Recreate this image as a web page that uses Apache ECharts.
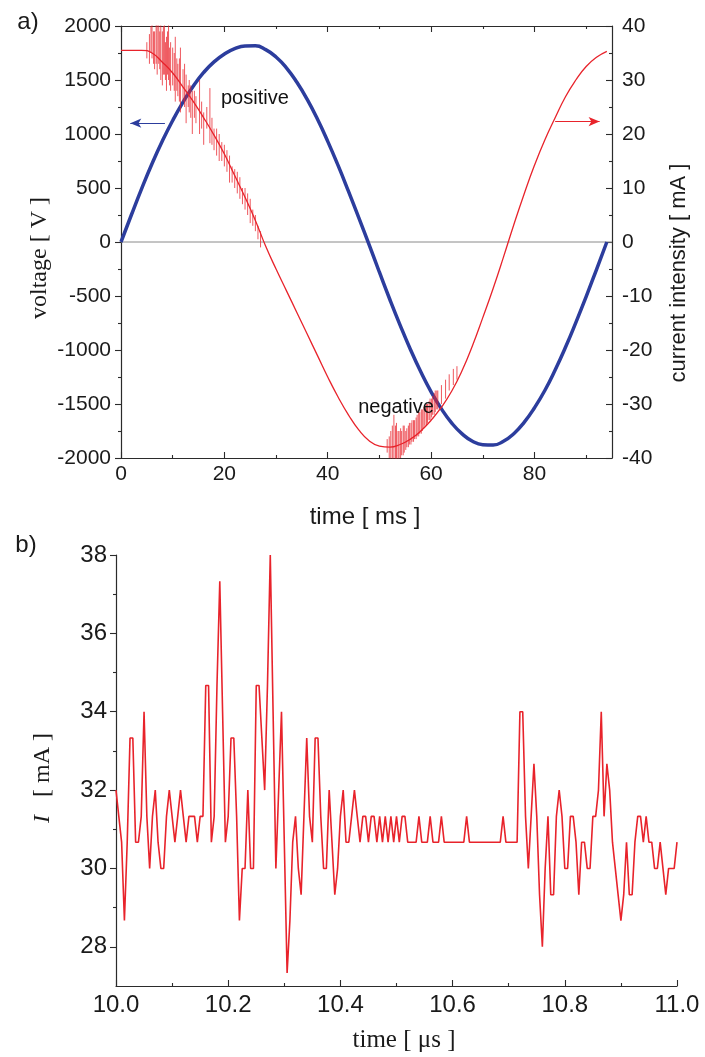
<!DOCTYPE html>
<html>
<head>
<meta charset="utf-8">
<script src="https://cdn.jsdelivr.net/npm/echarts@6/dist/echarts.min.js"></script>
<style>
  html, body { margin: 0; padding: 0; background: #fff; }
  #chart { width: 705px; height: 1057px; }
</style>
</head>
<body>
<div id="chart"></div>
<script>
// ---- panel a) : one period of the discharge ----
const tMs = [0, 2, 4, 6, 8, 10, 12, 14, 16, 18, 20, 22, 24, 26, 28, 30, 32, 34, 36, 38, 40, 42, 44, 46,
  48, 50, 52, 54, 56, 58, 60, 62, 64, 66, 68, 70, 72, 74, 76, 78, 80, 82, 84, 86, 88, 90, 92, 94]
const voltageV = [0, 250, 495, 725, 935, 1125, 1295, 1445, 1570, 1668, 1740, 1790, 1815, 1816, 1781, 1713,
  1613, 1481, 1322, 1138, 932, 709, 471, 225, -25, -280, -530, -769, -995, -1202, -1387, -1545,
  -1677, -1777, -1845, -1877, -1880, -1845, -1775, -1670, -1535, -1375, -1185, -975, -746, -506, -255, 0]
const currentMA = [35.5, 35.5, 35.5, 35.0, 33.3, 31.3, 28.7, 26.0, 23.0, 19.8, 16.3, 12.3, 8.3, 4.0, -0.8, -5.0,
  -9.0, -13.0, -17.0, -21.0, -25.0, -28.7, -32.0, -34.8, -36.8, -37.8, -38.0, -37.5, -36.5, -35.0, -33.0, -30.6,
  -27.6, -23.8, -19.2, -14.0, -8.6, -2.8, 3.2, 8.9, 14.2, 18.9, 23.0, 26.9, 30.0, 32.5, 34.2, 35.3]
// current spikes [t, top, bottom] in the noisy parts
const spikesPositive = [[5.0, 37, 34], [5.5, 38.5, 33], [5.8, 40, 35], [6.0, 41, 34], [6.3, 39, 33], [6.5, 39, 32],
  [6.8, 41, 33], [7.0, 41, 31], [7.3, 41, 33], [7.5, 39, 32], [7.7, 41, 30], [8.0, 39, 29], [8.2, 40, 31],
  [8.4, 41, 31], [8.6, 37, 30], [8.8, 38, 28], [9.0, 39, 31], [9.2, 41, 30], [9.4, 36, 29], [9.6, 37, 28],
  [10.0, 36, 29], [10.3, 35, 28], [10.5, 38, 26], [10.8, 34, 28], [11.0, 33, 27], [11.3, 34, 26], [11.5, 36, 24],
  [12.0, 32, 26], [12.3, 33, 25], [12.6, 31, 22], [13.0, 29, 25], [13.2, 30, 24], [13.5, 29, 23], [13.8, 28, 20],
  [14.2, 28, 23], [14.5, 27, 22], [15.2, 30, 20], [15.6, 26, 21], [16.0, 24, 18], [16.6, 25, 21],
  [17.2, 28.5, 18.3], [17.6, 23, 18], [18.0, 21, 17], [18.5, 21, 16], [19.0, 20, 15], [19.5, 18.5, 15],
  [20.0, 18, 14], [20.5, 17, 13], [21.0, 16, 11], [21.5, 14, 11], [22.0, 13.5, 10], [22.5, 13, 9],
  [23.0, 12, 8], [23.5, 10, 7], [24.0, 10, 6], [24.5, 9, 5], [25.0, 8, 3.5], [25.5, 6, 3], [26.0, 5, 2],
  [26.5, 3, 0.5], [27.0, 2, -1]]
const spikesNegative = [[51.5, -36.5, -39], [51.9, -36, -40], [52.2, -35, -41], [52.5, -34, -41], [52.8, -32, -41],
  [53.1, -34, -41], [53.3, -33.5, -41], [53.6, -35, -41], [53.8, -35, -41], [54.1, -34.5, -40],
  [54.3, -35, -39.5], [54.6, -34, -39.5], [54.8, -34, -39], [55.1, -35, -38.5], [55.3, -34.5, -38],
  [55.6, -34, -38], [55.8, -33.5, -37.5], [56.1, -33.5, -37.5], [56.3, -33, -37], [56.6, -33, -37],
  [56.8, -33, -36.5], [57.1, -32.5, -36.5], [57.3, -32, -36], [57.6, -31.5, -36], [57.8, -31.5, -35.5],
  [58.1, -31, -35.5], [58.3, -31, -35], [58.6, -30.5, -34.5], [58.8, -30.5, -34], [59.1, -30, -34],
  [59.3, -30, -33.5], [59.6, -29.5, -33], [59.8, -29, -33], [60.1, -29, -32.5], [60.3, -28.5, -32],
  [60.6, -28, -32], [60.8, -27.5, -31.5], [61.1, -27.5, -31], [61.3, -27.5, -31], [62.0, -26.5, -30],
  [62.8, -25.5, -29], [63.5, -24.5, -27.5], [64.3, -23.5, -26.5], [65.0, -23, -25.5]]
const notes = [['positive', 25.9, 1333], ['negative', 53.2, -1528]]
const arrowVoltage = [[8.5, 1100], [1.8, 1100]]
const arrowCurrent = [[84.0, 22.3], [92.6, 22.3]]

// ---- panel b) : zoom on 1 µs, sampled every 5 ns ----
const tStartUs = 10.0
const dtUs = 0.005
const currentB = [
  32, 31.33, 30.67, 28.67, 30.67, 33.33, 33.33, 30.67, 30.67, 31.33,
  34, 31.33, 30, 31.33, 32, 30.67, 30, 30, 31.33, 32,
  31.33, 30.67, 31.33, 32, 31.33, 30.67, 31.33, 31.33, 31.33, 30.67,
  31.33, 31.33, 34.67, 34.67, 30.67, 31.33, 34.67, 37.33, 34, 30.67,
  31.33, 33.33, 33.33, 31.33, 28.67, 30, 30, 32, 30, 30,
  34.67, 34.67, 33.33, 32, 34.67, 38, 34, 30, 32, 34,
  30.67, 27.33, 28.67, 30.67, 31.33, 30, 29.33, 31.33, 33.33, 31.33,
  30.67, 33.33, 33.33, 31.33, 30, 30, 32, 30.67, 29.33, 30,
  31.33, 32, 30.67, 30.67, 31.33, 32, 31.33, 30.67, 31.33, 31.33,
  30.67, 31.33, 31.33, 30.67, 31.33, 30.67, 31.33, 30.67, 31.33, 30.67,
  31.33, 30.67, 31.33, 31.33, 30.67, 30.67, 30.67, 30.67, 31.33, 30.67,
  30.67, 30.67, 31.33, 30.67, 30.67, 30.67, 31.33, 30.67, 30.67, 30.67,
  30.67, 30.67, 30.67, 30.67, 30.67, 31.33, 30.67, 30.67, 30.67, 30.67,
  30.67, 30.67, 30.67, 30.67, 30.67, 30.67, 30.67, 30.67, 31.33, 30.67,
  30.67, 30.67, 30.67, 30.67, 34, 34, 31.33, 30, 31.33, 32.67,
  31.33, 29.33, 28, 30, 31.33, 29.33, 29.33, 31.33, 32, 31.33,
  30, 30, 31.33, 31.33, 30.67, 29.33, 30.67, 30.67, 30, 30,
  31.33, 31.33, 32, 34, 31.33, 32.67, 32, 30.67, 30, 29.33,
  28.67, 29.33, 30.67, 29.33, 29.33, 30.67, 31.33, 31.33, 30.67, 31.33,
  30.67, 30.67, 30, 30, 30.67, 30, 29.33, 30, 30, 30,
  30.67]

const msMajor = [0, 20, 40, 60, 80]
const msMinor = [10, 30, 50, 70, 90]
const mAMajor = [28, 30, 32, 34, 36, 38]
const mAMinor = [29, 31, 33, 35, 37]

const SANS = 'Liberation Sans'
const SERIF = 'Liberation Serif'
const BLUE = '#2c3d9d'
const RED = '#e8232b'
const GREY = '#8a8a8a'
const AX = '#2b2b2b'
const LBL = '#1a1a1a'

const chart = echarts.init(document.getElementById('chart'))

const spikeLine = (list) => list.flatMap((s) => [[s[0], s[1]], [s[0], s[2]], [s[0], '-']])
const arrow = (pts) => [{ coord: pts[0], symbol: 'none' }, { coord: pts[1], symbol: 'arrow', symbolSize: [7, 11] }]
const line = { lineStyle: { color: AX, width: 1.2 }, onZero: false }
const noSplit = { show: false }

// tick-only overlay axes (minor ticks)
const tickAxis = (gridIndex, position, min, max, values, inside) => ({
  gridIndex, type: 'value', position, min, max,
  axisLine: { show: false, onZero: false },
  axisLabel: { show: false },
  axisTick: { show: true, inside, length: 3, customValues: values, lineStyle: { color: AX, width: 1.1 } },
  splitLine: noSplit,
})

const option = {
  animation: false,
  backgroundColor: '#fff',
  grid: [
    { left: 121, top: 26, width: 491, height: 432 },
    { left: 116, top: 555, width: 561, height: 431 },
  ],
  xAxis: [
    {
      gridIndex: 0, type: 'value', position: 'bottom', min: 0, max: 95,
      axisLine: line,
      axisTick: { inside: true, length: 6, customValues: msMajor, lineStyle: { color: AX, width: 1.1 } },
      axisLabel: { customValues: msMajor, fontSize: 21, fontFamily: SANS, color: LBL, margin: 6 },
      splitLine: noSplit,
    },
    tickAxis(0, 'bottom', 0, 95, msMinor, true),
    {
      gridIndex: 0, type: 'value', position: 'top', min: 0, max: 95,
      axisLine: line,
      axisTick: { inside: true, length: 6, customValues: msMajor, lineStyle: { color: AX, width: 1.1 } },
      axisLabel: { show: false },
      splitLine: noSplit,
    },
    tickAxis(0, 'top', 0, 95, msMinor, true),
    {
      gridIndex: 1, type: 'value', position: 'bottom', min: 10, max: 11, interval: 0.2,
      axisLine: line,
      axisTick: { inside: true, length: 6, lineStyle: { color: AX, width: 1.1 } },
      minorTick: { show: true, splitNumber: 2, length: 3, lineStyle: { color: AX, width: 1.1 } },
      axisLabel: { fontSize: 24, fontFamily: SANS, color: LBL, margin: 7, formatter: (v) => v.toFixed(1) },
      splitLine: noSplit,
      minorSplitLine: noSplit,
    },
  ],
  yAxis: [
    {
      gridIndex: 0, type: 'value', position: 'left', min: -2000, max: 2000, interval: 500,
      axisLine: { show: true, ...line },
      axisTick: { show: true, length: 6, lineStyle: { color: AX, width: 1.1 } },
      minorTick: { show: true, splitNumber: 2, length: 3, lineStyle: { color: AX, width: 1.1 } },
      axisLabel: { fontSize: 21, fontFamily: SANS, color: LBL, margin: 10, formatter: (v) => String(v) },
      splitLine: noSplit,
      minorSplitLine: noSplit,
    },
    {
      gridIndex: 0, type: 'value', position: 'right', min: -40, max: 40, interval: 10,
      axisLine: { show: true, ...line },
      axisTick: { show: true, inside: true, length: 6, lineStyle: { color: AX, width: 1.1 } },
      minorTick: { show: true, splitNumber: 2, length: 3, lineStyle: { color: AX, width: 1.1 } },
      axisLabel: { fontSize: 21, fontFamily: SANS, color: LBL, margin: 10 },
      splitLine: noSplit,
      minorSplitLine: noSplit,
    },
    {
      gridIndex: 1, type: 'value', position: 'left', min: 27, max: 38,
      axisLine: { show: true, ...line },
      axisTick: { show: true, length: 6, customValues: mAMajor, lineStyle: { color: AX, width: 1.1 } },
      axisLabel: { customValues: mAMajor, fontSize: 24, fontFamily: SANS, color: LBL, margin: 9 },
      splitLine: noSplit,
    },
    tickAxis(1, 'left', 27, 38, mAMinor, false),
  ],
  series: [
    {
      // zero reference line, drawn under the curves
      name: 'zero', type: 'line', xAxisIndex: 0, yAxisIndex: 0,
      data: [[0, 0], [95, 0]],
      showSymbol: false, silent: true, z: 1,
      lineStyle: { color: GREY, width: 1 },
    },
    {
      name: 'voltage', type: 'line', xAxisIndex: 0, yAxisIndex: 0,
      data: tMs.map((t, i) => [t, voltageV[i]]),
      showSymbol: false, smooth: true, z: 3,
      lineStyle: { color: BLUE, width: 3.5 },
      markLine: {
        silent: true, animation: false,
        label: { show: false },
        lineStyle: { color: BLUE, width: 1, type: 'solid' },
        data: [arrow(arrowVoltage)],
      },
    },
    {
      name: 'current', type: 'line', xAxisIndex: 0, yAxisIndex: 1,
      data: tMs.map((t, i) => [t, currentMA[i]]),
      showSymbol: false, smooth: true, z: 4,
      lineStyle: { color: RED, width: 1.3 },
      markLine: {
        silent: true, animation: false,
        label: { show: false },
        itemStyle: { color: RED },
        lineStyle: { color: RED, width: 1, type: 'solid' },
        data: [arrow(arrowCurrent)],
      },
    },
    {
      name: 'current noise', type: 'line', xAxisIndex: 0, yAxisIndex: 1,
      data: spikeLine(spikesPositive).concat([[40, '-']], spikeLine(spikesNegative)),
      showSymbol: false, connectNulls: false, z: 4,
      lineStyle: { color: RED, width: 0.9, opacity: 0.85 },
    },
    {
      name: 'notes', type: 'scatter', xAxisIndex: 0, yAxisIndex: 0,
      data: notes.map((n) => ({ name: n[0], value: [n[1], n[2]] })),
      symbolSize: 0, silent: true, z: 6,
      itemStyle: { opacity: 1 },
      label: {
        show: true, position: [0, 0], align: 'center', verticalAlign: 'middle',
        formatter: '{b}', fontSize: 20, fontFamily: SANS, color: '#111',
      },
    },
    {
      name: 'current b', type: 'line', xAxisIndex: 4, yAxisIndex: 2,
      data: currentB.map((v, i) => [+(tStartUs + i * dtUs).toFixed(3), v]),
      showSymbol: false,
      lineStyle: { color: RED, width: 1.6 },
    },
  ],
  graphic: [
    { type: 'text', x: 28, y: 22, style: { text: 'a)', font: '24px "Liberation Sans"', fill: LBL, align: 'center', verticalAlign: 'middle' } },
    { type: 'text', x: 26, y: 545, style: { text: 'b)', font: '24px "Liberation Sans"', fill: LBL, align: 'center', verticalAlign: 'middle' } },
    { type: 'text', x: 40, y: 258, rotation: Math.PI / 2, style: { text: 'voltage [ V ]', font: '24px "Liberation Serif"', fill: LBL, align: 'center', verticalAlign: 'middle' } },
    { type: 'text', x: 679, y: 273, rotation: Math.PI / 2, style: { text: 'current intensity [ mA ]', font: '22px "Liberation Sans"', fill: LBL, align: 'center', verticalAlign: 'middle' } },
    { type: 'text', x: 365, y: 517, style: { text: 'time [ ms ]', font: '24px "Liberation Sans"', fill: LBL, align: 'center', verticalAlign: 'middle' } },
    {
      type: 'text', x: 43, y: 778, rotation: Math.PI / 2,
      style: {
        text: '{i|I}   [ mA ]', font: '24px "Liberation Serif"', fill: LBL, align: 'center', verticalAlign: 'middle',
        rich: { i: { fontStyle: 'italic', fontFamily: SERIF, fontSize: 24, fill: LBL } },
      },
    },
    { type: 'text', x: 404, y: 1040, style: { text: 'time [ μs ]', font: '25px "Liberation Serif"', fill: LBL, align: 'center', verticalAlign: 'middle' } },
  ],
}

chart.setOption(option)
</script>
</body>
</html>
